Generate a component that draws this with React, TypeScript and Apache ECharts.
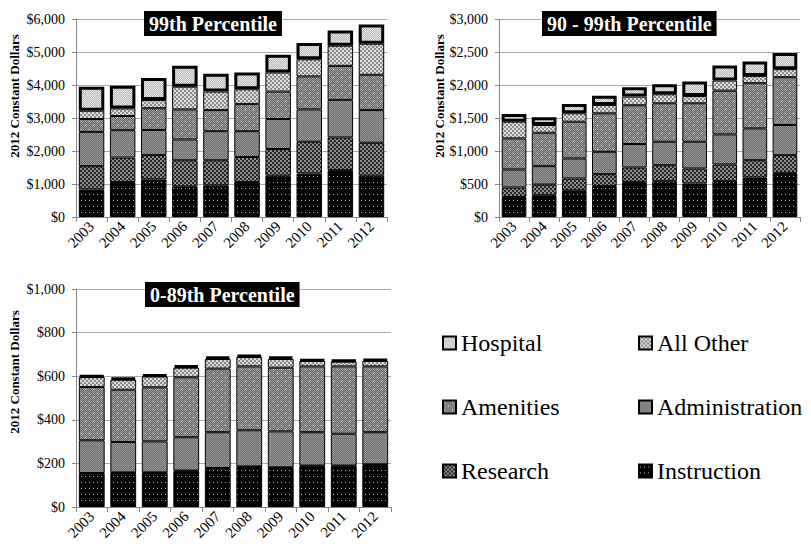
import React, { useEffect, useRef } from "react";
import * as echarts from "echarts";

const years = ["2003", "2004", "2005", "2006", "2007", "2008", "2009", "2010", "2011", "2012"];
const seriesNames = ["Instruction", "Research", "Administration", "Amenities", "All Other", "Hospital"];

// 99th percentile
const instruction99 = [830, 1060, 1140, 930, 960, 1060, 1250, 1320, 1420, 1250];
const research99 = [710, 740, 735, 790, 760, 760, 810, 960, 990, 1000];
const administration99 = [1040, 830, 760, 630, 880, 780, 910, 980, 1140, 990];
const amenities99 = [390, 430, 660, 910, 640, 820, 830, 1000, 1030, 1070];
const allOther99 = [250, 230, 250, 690, 560, 450, 580, 520, 610, 940];
const hospital99 = [730, 690, 670, 630, 540, 510, 540, 490, 460, 580];

// 90 - 99th percentile
const instruction90 = [304, 330, 405, 471, 532, 542, 507, 547, 598, 669];
const research90 = [143, 162, 178, 178, 218, 243, 228, 249, 263, 268];
const administration90 = [273, 278, 304, 339, 355, 355, 405, 456, 482, 457];
const amenities90 = [471, 507, 557, 583, 588, 583, 583, 663, 684, 724];
const allOther90 = [253, 117, 127, 127, 131, 137, 111, 153, 111, 122];
const hospital90 = [117, 116, 142, 141, 142, 152, 218, 228, 219, 243];

// 0 - 89th percentile
const instruction0 = [153, 156, 156, 164, 176, 183, 179, 187, 187, 193];
const research0 = [3, 3, 3, 3, 3, 3, 3, 3, 3, 3];
const administration0 = [150, 139, 142, 153, 164, 166, 165, 153, 146, 147];
const amenities0 = [244, 240, 248, 275, 292, 293, 292, 302, 309, 302];
const allOther0 = [46, 46, 50, 44, 44, 43, 40, 25, 22, 25];
const hospital0 = [8, 9, 9, 11, 11, 9, 11, 7, 7, 9];

const panelData = [
  [instruction99, research99, administration99, amenities99, allOther99, hospital99],
  [instruction90, research90, administration90, amenities90, allOther90, hospital90],
  [instruction0, research0, administration0, amenities0, allOther0, hospital0],
];
const panelTitles = ["99th Percentile", "90 - 99th Percentile", "0-89th Percentile"];
const axisMax = [6000, 3000, 1000];
const axisInterval = [1000, 500, 200];
const yAxisName = "2012 Constant Dollars";

const FONT = "Liberation Serif";

function pattern(w: number, h: number, paint: (ctx: CanvasRenderingContext2D) => void) {
  const c = document.createElement("canvas");
  c.width = w;
  c.height = h;
  const ctx = c.getContext("2d")!;
  paint(ctx);
  return { image: c.toDataURL(), repeat: "repeat", imageWidth: w, imageHeight: h };
}

function checker(ctx: CanvasRenderingContext2D, w: number, h: number, cell: number, a: string, b: string) {
  for (let y = 0; y < h; y++) {
    for (let x = 0; x < w; x++) {
      const k = (Math.floor(x / cell) + Math.floor(y / cell)) % 2;
      ctx.fillStyle = k ? a : b;
      ctx.fillRect(x, y, 1, 1);
    }
  }
}

function makePatterns() {
  const instruction = pattern(4, 6, (ctx) => {
    ctx.fillStyle = "#000";
    ctx.fillRect(0, 0, 4, 6);
    ctx.fillStyle = "#b0b0b0";
    ctx.fillRect(1, 2, 1, 1);
  });
  const research = pattern(4, 4, (ctx) => checker(ctx, 4, 4, 2, "#262626", "#8e8e8e"));
  const administration = pattern(2, 2, (ctx) => checker(ctx, 2, 2, 1, "#6c6c6c", "#989898"));
  const amenities = pattern(8, 8, (ctx) => {
    checker(ctx, 8, 8, 1, "#6a6a6a", "#9a9a9a");
    ctx.fillStyle = "#ffffff";
    ctx.fillRect(1, 1, 1, 1);
    ctx.fillRect(5, 5, 1, 1);
  });
  const allOther = pattern(4, 4, (ctx) => checker(ctx, 4, 4, 2, "#8a8a8a", "#dcdcdc"));
  const hospital = pattern(2, 2, (ctx) => checker(ctx, 2, 2, 1, "#b8b8b8", "#e8e8e8"));
  return [instruction, research, administration, amenities, allOther, hospital];
}

const grids = [
  { left: 76, top: 19, width: 311, height: 198 },
  { left: 499, top: 19, width: 301, height: 198 },
  { left: 76, top: 289, width: 315, height: 218 },
];
const titlePos = [
  { left: 144, top: 11 },
  { left: 542, top: 11 },
  { left: 145, top: 282 },
];
const axisNamePos = [
  { x: 14, y: 96 },
  { x: 439, y: 96 },
  { x: 14, y: 372 },
];
const legendPos: Record<string, { left: number; top: number }> = {
  Hospital: { left: 442, top: 331 },
  "All Other": { left: 638, top: 331 },
  Amenities: { left: 442, top: 395 },
  Administration: { left: 638, top: 395 },
  Research: { left: 442, top: 459 },
  Instruction: { left: 638, top: 459 },
};

export default function App() {
  const ref = useRef<HTMLDivElement>(null);
  useEffect(() => {
    if (!ref.current) return;
    const chart = echarts.init(ref.current, null, { renderer: "svg" });
    const patterns = makePatterns();

    const series: any[] = [];
    panelData.forEach((panel, p) => {
      panel.forEach((vals, s) => {
        series.push({
          type: "bar",
          name: seriesNames[s],
          stack: "p" + p,
          xAxisIndex: p,
          yAxisIndex: p,
          data: vals,
          barCategoryGap: "18%",
          itemStyle: {
            color: patterns[s],
            borderColor: "#000",
            borderWidth: s === 5 ? 3 : 1,
          },
          emphasis: { disabled: true },
        });
      });
    });

    const option: any = {
      animation: false,
      textStyle: { fontFamily: FONT },
      title: panelTitles.map((t, i) => ({
        text: t,
        left: titlePos[i].left,
        top: titlePos[i].top,
        backgroundColor: "#000",
        padding: [2, 5, 2, 5],
        textStyle: {
          color: "#fff",
          fontFamily: FONT,
          fontWeight: "bold",
          fontSize: 20,
          lineHeight: 21,
        },
      })),
      grid: grids.map((g) => ({ ...g, containLabel: false })),
      xAxis: grids.map((_, i) => ({
        type: "category",
        gridIndex: i,
        data: years,
        axisLine: { lineStyle: { color: "#888", width: 1 } },
        axisTick: { show: true, alignWithLabel: false, length: 5, lineStyle: { color: "#888" } },
        axisLabel: {
          rotate: 45,
          interval: 0,
          margin: 7,
          color: "#000",
          fontFamily: FONT,
          fontSize: 15,
        },
      })),
      yAxis: grids.map((_, i) => ({
        type: "value",
        gridIndex: i,
        min: 0,
        max: axisMax[i],
        interval: axisInterval[i],
        axisLine: { show: true, lineStyle: { color: "#888", width: 1 } },
        axisTick: { show: true, length: 4, lineStyle: { color: "#888" } },
        splitLine: { lineStyle: { color: "#a8a8a8", width: 1 } },
        axisLabel: {
          margin: 11,
          color: "#000",
          fontFamily: FONT,
          fontSize: 14,
          formatter: (v: number) => "$" + v.toLocaleString("en-US"),
        },
      })),
      legend: seriesNames.map((n) => ({
        data: [n],
        left: legendPos[n].left,
        top: legendPos[n].top,
        padding: 0,
        icon: "rect",
        itemWidth: 13,
        itemHeight: 13,
        selectedMode: false,
        textStyle: { color: "#000", fontFamily: FONT, fontSize: 24 },
      })),
      graphic: axisNamePos.map((pos) => ({
        type: "text",
        x: pos.x,
        y: pos.y,
        rotation: Math.PI / 2,
        style: {
          text: yAxisName,
          fontFamily: FONT,
          fontWeight: "bold",
          fontSize: 13,
          fill: "#000",
          align: "center",
          verticalAlign: "middle",
        },
      })),
      series,
    };
    chart.setOption(option);
    return () => chart.dispose();
  }, []);

  return (
    <div
      ref={ref}
      style={{ position: "fixed", left: 0, top: 0, width: 811, height: 544, background: "#fff" }}
    />
  );
}
